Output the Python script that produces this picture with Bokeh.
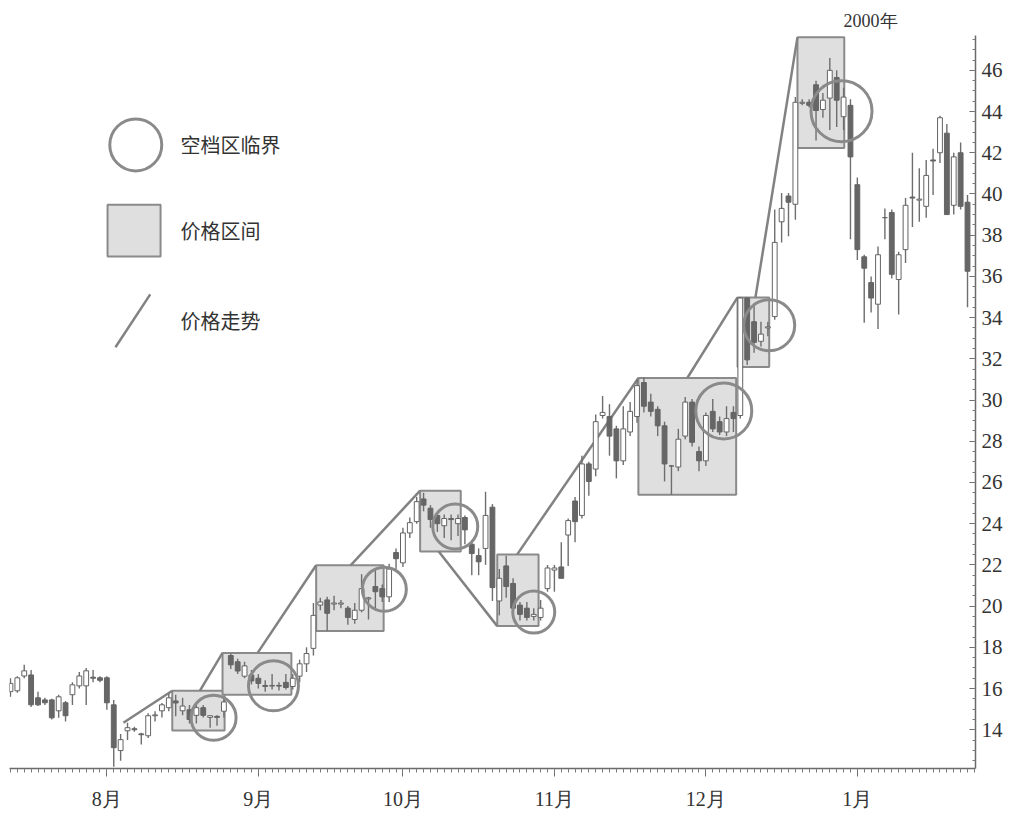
from bokeh.plotting import figure
from bokeh.models import FixedTicker, Range1d, ColumnDataSource
from bokeh.core.properties import value
from bokeh.embed import file_html
from bokeh.resources import INLINE

# ---------------- data ----------------
open_ = [15.85, 15.89, 16.61, 16.66, 15.55, 15.45, 15.45, 14.92, 15.31, 15.70,
         16.13, 16.13, 16.55, 16.52, 16.52, 15.21, 12.99, 13.95, 14.05, 13.80,
         13.71, 14.68, 14.92, 15.07, 15.40, 14.92, 14.97, 14.70, 15.07, 14.60,
         14.65, 14.90, 17.60, 17.30, 16.60, 16.66, 16.50, 16.15, 16.12, 16.15,
         16.30, 16.10, 16.60, 17.20, 17.95, 20.05, 20.30, 20.10, 20.10, 19.90,
         19.35, 19.80, 20.35, 20.95, 20.85, 20.45, 22.60, 22.10, 23.55, 24.10,
         25.20, 24.75, 24.40, 23.90, 24.25, 24.00, 24.30, 23.00, 22.45, 22.80,
         24.80, 20.25, 21.95, 21.10, 20.05, 19.90, 19.50, 19.45, 20.85, 21.75,
         21.90, 23.45, 25.10, 24.40, 26.90, 26.65, 29.25, 29.20, 28.60, 27.05,
         28.45, 29.20, 30.85, 29.90, 29.55, 28.75, 26.80, 26.75, 28.25, 29.90,
         27.50, 27.05, 29.45, 28.95, 28.45, 29.40, 29.25, 34.95, 33.80, 32.85,
         33.50, 34.05, 38.65, 39.90, 39.50, 44.40, 44.45, 45.30, 44.10, 44.65,
         45.65, 43.75, 44.30, 40.45, 36.95, 35.70, 34.65, 38.85, 39.10, 35.85,
         37.30, 39.85, 39.70, 39.40, 41.65, 42.00, 42.95, 39.45, 42.00, 39.60]
close = [16.25, 16.52, 16.86, 15.21, 15.21, 15.31, 14.58, 15.60, 14.68, 16.18,
         16.61, 16.86, 16.50, 16.40, 15.31, 13.13, 13.52, 14.10, 14.00, 13.76,
         14.68, 14.72, 15.21, 15.55, 15.30, 15.15, 14.50, 15.07, 14.70, 14.68,
         14.60, 15.35, 17.15, 16.85, 17.10, 16.37, 16.25, 16.10, 16.15, 16.12,
         16.05, 16.50, 17.20, 17.70, 19.55, 20.20, 19.65, 20.15, 20.15, 19.45,
         19.80, 20.85, 20.40, 20.70, 20.45, 21.80, 22.30, 23.55, 24.05, 25.07,
         24.90, 24.20, 24.00, 24.25, 24.20, 24.25, 23.70, 22.55, 22.15, 24.40,
         20.90, 21.35, 20.95, 19.90, 19.60, 19.45, 19.60, 19.90, 21.85, 21.85,
         21.35, 24.15, 24.10, 26.90, 26.05, 28.95, 29.40, 28.25, 27.05, 28.60,
         29.45, 30.70, 29.70, 29.45, 28.75, 26.90, 26.80, 28.10, 29.90, 27.95,
         27.05, 29.25, 28.60, 28.45, 29.10, 29.10, 34.95, 31.95, 32.80, 33.20,
         33.55, 37.65, 39.30, 39.60, 44.45, 44.45, 44.30, 44.05, 44.55, 46.00,
         44.55, 44.70, 41.80, 37.30, 36.40, 34.95, 37.05, 38.85, 36.10, 37.05,
         39.45, 39.80, 39.75, 40.90, 41.60, 43.70, 39.00, 41.80, 39.40, 36.25]
high = [16.50, 16.60, 17.15, 16.90, 15.85, 15.55, 15.50, 15.70, 15.40, 16.30,
        16.80, 17.00, 16.90, 16.60, 16.60, 15.45, 13.80, 14.34, 14.15, 13.85,
        14.80, 14.90, 15.30, 15.75, 15.70, 15.55, 15.20, 15.20, 15.20, 14.70,
        14.70, 15.55, 17.70, 17.45, 17.30, 16.90, 16.70, 16.40, 16.70, 16.30,
        16.70, 16.70, 17.40, 18.00, 20.15, 20.40, 20.45, 20.50, 20.30, 20.00,
        20.15, 21.55, 20.45, 21.85, 21.05, 22.05, 22.80, 23.80, 24.30, 25.30,
        25.50, 24.90, 24.50, 24.45, 24.45, 24.45, 24.40, 23.20, 22.80, 25.55,
        24.95, 21.80, 22.45, 21.35, 20.20, 20.20, 19.90, 20.30, 22.00, 22.00,
        23.10, 24.25, 25.30, 27.30, 27.00, 29.30, 30.20, 29.80, 28.75, 29.70,
        29.90, 31.00, 31.10, 30.30, 29.70, 28.95, 26.85, 28.60, 30.15, 30.05,
        27.75, 29.40, 30.05, 29.20, 29.70, 29.70, 35.00, 35.00, 34.70, 33.80,
        33.80, 39.25, 40.05, 40.05, 44.70, 44.60, 44.60, 45.50, 44.90, 46.60,
        46.00, 45.15, 44.60, 40.80, 37.05, 36.00, 37.45, 39.30, 39.25, 37.20,
        39.80, 42.00, 41.25, 41.65, 42.20, 43.80, 43.40, 42.00, 42.50, 39.95]
low = [15.60, 15.80, 16.50, 15.10, 15.15, 15.20, 14.50, 14.58, 14.40, 15.20,
       16.00, 15.20, 16.30, 16.30, 14.97, 12.20, 12.50, 13.50, 13.90, 13.28,
       13.60, 14.40, 14.60, 14.90, 14.65, 14.70, 14.30, 14.30, 14.60, 14.10,
       14.20, 14.60, 16.95, 16.70, 16.50, 16.20, 16.00, 15.85, 15.95, 15.90,
       15.95, 15.95, 16.30, 16.80, 17.60, 19.80, 18.80, 19.80, 19.90, 19.10,
       19.15, 19.70, 19.35, 19.90, 20.20, 20.20, 21.80, 21.90, 23.30, 24.00,
       24.60, 23.80, 23.60, 23.30, 23.20, 23.40, 23.00, 21.50, 21.50, 22.00,
       20.25, 19.55, 20.40, 19.40, 19.30, 19.30, 19.30, 19.30, 20.70, 20.70,
       21.35, 21.95, 23.10, 24.25, 25.35, 26.30, 29.10, 27.30, 26.20, 26.85,
       28.25, 28.90, 29.40, 29.20, 28.25, 26.05, 25.40, 26.55, 28.10, 27.75,
       26.55, 26.80, 28.45, 28.30, 28.25, 28.45, 29.10, 31.70, 32.30, 32.60,
       33.10, 33.90, 37.65, 37.95, 38.75, 44.30, 44.20, 42.60, 43.70, 43.10,
       43.25, 43.10, 37.80, 36.80, 33.75, 34.25, 33.45, 37.80, 35.90, 34.15,
       36.65, 38.40, 38.65, 38.85, 39.95, 41.50, 39.00, 39.00, 39.25, 34.50]

month_labels = ["8月", "9月", "10月", "11月", "12月", "1月"]
month_start = [14, 36, 57, 79, 101, 123]
price_ticks = [14, 16, 18, 20, 22, 24, 26, 28, 30, 32, 34, 36, 38, 40, 42, 44, 46]

# price ranges (boxes)
box_left = [23.5, 30.8, 44.4, 59.5, 70.7, 91.2, 105.6, 114.3]
box_right = [31.1, 40.8, 54.2, 65.4, 76.7, 105.4, 110.2, 121.1]
box_low = [13.96, 15.70, 18.79, 22.65, 19.03, 25.41, 31.60, 42.23]
box_high = [15.89, 17.73, 21.98, 25.60, 22.51, 31.07, 34.98, 47.60]

# price trend segments
trend_x0 = [16.4, 27.5, 35.9, 49.4, 62.2, 73.6, 98.3, 108.2]
trend_y0 = [14.34, 15.89, 17.73, 21.98, 22.65, 22.51, 31.07, 34.98]
trend_x1 = [23.5, 30.8, 44.4, 59.5, 70.7, 91.2, 105.6, 114.3]
trend_y1 = [15.89, 17.73, 21.98, 25.60, 19.03, 31.07, 34.98, 47.60]

# gap-zone thresholds (circles)
gap_x = [29.5, 38.2, 54.3, 64.6, 76.0, 103.6, 110.2, 120.7]
gap_y = [14.58, 16.13, 20.82, 23.86, 19.71, 29.47, 33.63, 44.02]
gap_diam_px = [45, 50, 44, 45, 42, 56, 51, 61]

legend_labels = ["空档区临界", "价格区间", "价格走势"]
year_label = "2000年"

# ---------------- styling constants ----------------
DARK = "#666666"
LINE = "#8a8a8a"
TXT = "#333333"

idx = list(range(len(open_)))
body_top = [max(o, c) for o, c in zip(open_, close)]
body_bot = [min(o, c) for o, c in zip(open_, close)]
body_fill = ["white" if c >= o else DARK for o, c in zip(open_, close)]
src = ColumnDataSource(dict(x=idx, o=open_, c=close, h=high, l=low,
                            top=body_top, bot=body_bot, fill=body_fill))

p = figure(width=1005, height=812,
           x_range=Range1d(-0.14, 140.16), y_range=Range1d(12.12, 47.69),
           output_backend="svg", toolbar_location=None,
           y_axis_location="right",
           min_border_left=9, min_border_right=30,
           min_border_top=35, min_border_bottom=41)
p.grid.visible = False
p.outline_line_color = None
p.background_fill_color = "white"
p.border_fill_color = "white"

# year title
p.title.text = year_label
p.title.align = "left"
p.title.offset = 834
p.title.text_font = "Liberation Serif"
p.title.text_font_size = "18px"
p.title.text_font_style = "normal"
p.title.text_color = TXT
p.title.standoff = 9

# boxes
p.quad(left=box_left, right=box_right, bottom=box_low, top=box_high,
       fill_color="#dfdfdf", line_color=LINE, line_width=2)

# trend lines
p.segment(x0=trend_x0, y0=trend_y0, x1=trend_x1, y1=trend_y1,
          line_color="#828282", line_width=2.5)

# candles
p.segment(x0="x", y0="l", x1="x", y1="h", source=src,
          line_color="#6e6e6e", line_width=1.4)
p.vbar(x="x", width=0.7, top="top", bottom="bot", source=src,
       fill_color="fill", line_color="#646464", line_width=1)

# circles
p.scatter(x=gap_x, y=gap_y, size=gap_diam_px, marker="circle",
          fill_color=None, line_color=LINE, line_width=3)

# legend (hand drawn)
p.scatter(x=[18.2], y=[42.38], size=52, marker="circle",
          fill_color=None, line_color=LINE, line_width=3)
p.quad(left=[14.1], right=[21.8], bottom=[36.96], top=[39.48],
       fill_color="#dfdfdf", line_color=LINE, line_width=2)
p.segment(x0=[15.25], y0=[32.56], x1=[20.3], y1=[35.13],
          line_color="#828282", line_width=2.5)
p.text(x=[24.7, 24.7, 24.7], y=[42.38, 38.22, 33.87], text=legend_labels,
       text_font=value("Noto Sans CJK SC"), text_font_size="20px",
       text_baseline="middle", text_align="left", text_color=TXT)

# axes
xa = p.xaxis[0]
xa.ticker = FixedTicker(ticks=month_start, minor_ticks=idx + [len(idx)])
xa.major_label_overrides = {m: lab for m, lab in zip(month_start, month_labels)}
xa.axis_line_color = "#6a6a6a"
xa.axis_line_width = 1.5
xa.major_tick_in = 0
xa.major_tick_out = 8
xa.minor_tick_in = 0
xa.minor_tick_out = 4
xa.major_tick_line_color = "#6a6a6a"
xa.minor_tick_line_color = "#7a7a7a"
xa.major_label_standoff = 11
xa.major_label_text_font = "Liberation Serif"
xa.major_label_text_font_size = "20px"
xa.major_label_text_color = TXT

ya = p.yaxis[0]
ya.ticker = FixedTicker(ticks=price_ticks,
                        minor_ticks=[t / 2 for t in range(25, 96)])
ya.axis_line_color = "#6a6a6a"
ya.axis_line_width = 1.5
ya.major_tick_in = 6
ya.major_tick_out = 0
ya.minor_tick_in = 3
ya.minor_tick_out = 0
ya.major_tick_line_color = "#6a6a6a"
ya.minor_tick_line_color = "#7a7a7a"
ya.major_label_standoff = 6
ya.major_label_text_font = "Liberation Serif"
ya.major_label_text_font_size = "21px"
ya.major_label_text_color = TXT

open("out.html", "w").write(file_html(p, INLINE))
